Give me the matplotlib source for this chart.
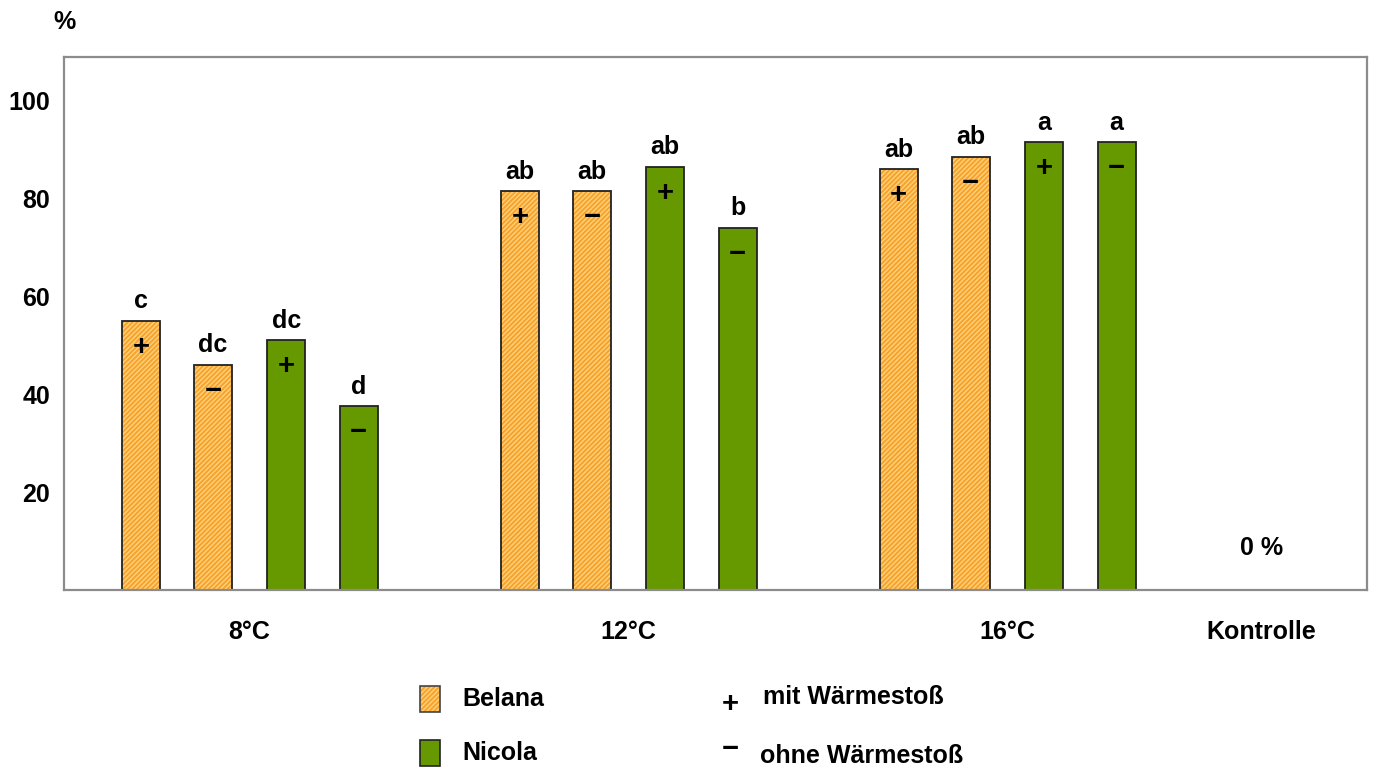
import matplotlib.pyplot as plt
from matplotlib.patches import Rectangle
import numpy as np

plt.rcParams["font.family"] = ["Liberation Sans", "DejaVu Sans"]
plt.rcParams["font.weight"] = "bold"

groups = ["8°C", "12°C", "16°C"]
belana_mit = [55, 81.5, 86]
belana_ohne = [46, 81.5, 88.5]
nicola_mit = [51, 86.5, 91.5]
nicola_ohne = [37.5, 74, 91.5]
letters_belana_mit = ["c", "ab", "ab"]
letters_belana_ohne = ["dc", "ab", "ab"]
letters_nicola_mit = ["dc", "ab", "a"]
letters_nicola_ohne = ["d", "b", "a"]
control_label = "Kontrolle"
control_value = "0 %"

ORANGE = "#F7A22A"
HATCH = "#FFD27E"
GREEN = "#669900"
FS = 18
SIGN_FS = 21

fig = plt.figure(figsize=(13.75, 7.69), dpi=100)
ax = fig.add_axes([0.0465, 0.233, 0.948, 0.693])

x = np.arange(len(groups))
offsets = [-0.287, -0.097, 0.097, 0.288]
width = 0.1

series = [
    (belana_mit, letters_belana_mit, "belana", "+"),
    (belana_ohne, letters_belana_ohne, "belana", "−"),
    (nicola_mit, letters_nicola_mit, "nicola", "+"),
    (nicola_ohne, letters_nicola_ohne, "nicola", "−"),
]

for off, (vals, letters, variety, sign) in zip(offsets, series):
    pos = x + off
    if variety == "belana":
        ax.bar(pos, vals, width, color=ORANGE, edgecolor=HATCH, hatch="///////", linewidth=0)
        ax.bar(pos, vals, width, facecolor="none", edgecolor="#222222", linewidth=1.3)
    else:
        ax.bar(pos, vals, width, color=GREEN, edgecolor="#222222", linewidth=1.3)
    for px, v, lab in zip(pos, vals, letters):
        ax.text(px, v + 1.6, lab, ha="center", va="bottom", fontsize=FS, fontweight="bold")
        ax.text(px, v - 5.3, sign, ha="center", va="center", fontsize=SIGN_FS, fontweight="bold")

ax.text(2.67, 8.5, control_value, ha="center", va="center", fontsize=FS, fontweight="bold")

ax.set_xlim(-0.49, 2.95)
ax.set_ylim(0, 109)
ax.set_yticks([20, 40, 60, 80, 100])
ax.set_xticks(list(x) + [2.67])
ax.set_xticklabels(groups + [control_label])
ax.tick_params(axis="both", length=0, labelsize=FS)
ax.tick_params(axis="x", pad=22)
ax.tick_params(axis="y", pad=10)
for lab in ax.get_xticklabels() + ax.get_yticklabels():
    lab.set_fontweight("bold")
for sp in ax.spines.values():
    sp.set_color("#8c8c8c")
    sp.set_linewidth(1.6)

fig.text(0.047, 0.972, "%", ha="center", va="center", fontsize=FS, fontweight="bold")

# legend drawn by hand below the axes
for y, fc, hatch, name in [(0.074, ORANGE, "///////", "Belana"), (0.004, GREEN, None, "Nicola")]:
    fig.patches.append(Rectangle((0.3055, y), 0.0145, 0.034, transform=fig.transFigure,
                                 facecolor=fc, edgecolor=HATCH if hatch else "#222222",
                                 hatch=hatch, linewidth=0 if hatch else 1.2))
    if hatch:
        fig.patches.append(Rectangle((0.3055, y), 0.0145, 0.034, transform=fig.transFigure,
                                     facecolor="none", edgecolor="#444444", linewidth=1.2))
    fig.text(0.336, y + 0.017, name, ha="left", va="center", fontsize=FS, fontweight="bold")

fig.text(0.531, 0.084, "+", ha="center", va="center", fontsize=SIGN_FS, fontweight="bold")
fig.text(0.555, 0.093, "mit Wärmestoß", ha="left", va="center", fontsize=FS, fontweight="bold")
fig.text(0.531, 0.026, "−", ha="center", va="center", fontsize=SIGN_FS, fontweight="bold")
fig.text(0.553, 0.017, "ohne Wärmestoß", ha="left", va="center", fontsize=FS, fontweight="bold")

fig.savefig("out.png", dpi=100)
